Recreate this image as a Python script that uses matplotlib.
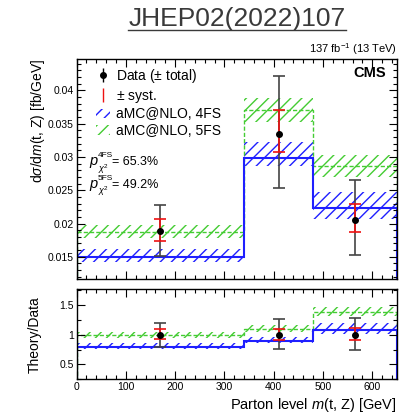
import numpy as np
import matplotlib
matplotlib.use('Agg')
from matplotlib import pyplot as plt
from matplotlib.lines import Line2D
from matplotlib.patches import Patch
from matplotlib.ticker import MultipleLocator, FuncFormatter

# binning and measured cross section (fb/GeV)
edges = [0, 340, 480, 650]
centers = [170, 410, 565]
data = [0.0189, 0.0335, 0.0206]
tot_up = [0.0039, 0.0087, 0.0059]
tot_dn = [0.0038, 0.0082, 0.0054]
syst_up = [0.0018, 0.0035, 0.0023]
syst_dn = [0.0015, 0.0028, 0.0019]

# predictions
pred_4fs = [0.0150, 0.0298, 0.0224]
lo_4fs = [0.0142, 0.0286, 0.0207]
hi_4fs = [0.0162, 0.0322, 0.0247]
pred_5fs = [0.0188, 0.0370, 0.0287]
lo_5fs = [0.0178, 0.0353, 0.0270]
hi_5fs = [0.0198, 0.0389, 0.0303]

schemes = ['4FS', '5FS']
pvals = ['65.3%', '49.2%']

plt.rcParams['font.family'] = ['Liberation Sans', 'DejaVu Sans']
plt.rcParams['mathtext.fontset'] = 'custom'
plt.rcParams['mathtext.rm'] = 'Liberation Sans'
plt.rcParams['mathtext.it'] = 'Liberation Sans:italic'
plt.rcParams['hatch.linewidth'] = 1.0

BLUE = '#1f1fff'
GREEN = '#44cc33'
RED = '#ee1111'
GREY = '#444444'

fig = plt.figure(figsize=(4.03, 4.18), dpi=100)
ax = fig.add_axes([0.190, 0.333, 0.795, 0.526])
rax = fig.add_axes([0.190, 0.093, 0.795, 0.215])


def step(v):
    return np.append(v, v[-1])


def draw(a, d, p4, l4, h4, p5, l5, h5, tu, td, su, sd):
    a.fill_between(edges, step(l5), step(h5), step='post', facecolor='none',
                   edgecolor=GREEN, hatch='///', linewidth=0)
    a.fill_between(edges, step(l4), step(h4), step='post', facecolor='none',
                   edgecolor=BLUE, hatch='///', linewidth=0)
    a.stairs(p5, edges, color=GREEN, lw=1.0, ls=(0, (3, 1.5)))
    a.stairs(p4, edges, color=BLUE, lw=1.5)
    a.errorbar(centers, d, yerr=[td, tu], fmt='none', ecolor=GREY, elinewidth=1.2,
               capsize=4, capthick=1.2, zorder=5)
    a.errorbar(centers, d, yerr=[sd, su], fmt='none', ecolor=RED, elinewidth=1.2,
               capsize=4.5, capthick=1.2, zorder=6)
    a.plot(centers, d, 'o', color='black', ms=4, zorder=7)


draw(ax, data, pred_4fs, lo_4fs, hi_4fs, pred_5fs, lo_5fs, hi_5fs,
     tot_up, tot_dn, syst_up, syst_dn)

# ratio Theory/Data
d = np.array(data)
r = lambda v: np.array(v) / d
draw(rax, np.ones(3), r(pred_4fs), r(lo_4fs), r(hi_4fs), r(pred_5fs), r(lo_5fs), r(hi_5fs),
     r(tot_up), r(tot_dn), r(syst_up), r(syst_dn))

fmt = FuncFormatter(lambda v, p: '%g' % round(v, 4))
for a in (ax, rax):
    a.set_xlim(0, 650)
    a.xaxis.set_major_locator(MultipleLocator(100))
    a.xaxis.set_minor_locator(MultipleLocator(20))
    a.tick_params(which='both', direction='in', top=True, right=True, labelsize=7.5,
                  width=0.8, pad=2)
    a.tick_params(which='major', length=6)
    a.tick_params(which='minor', length=3)
    a.yaxis.set_major_formatter(fmt)
    for s in a.spines.values():
        s.set_linewidth(1.0)

ax.set_ylim(0.0117, 0.0447)
ax.yaxis.set_major_locator(MultipleLocator(0.005))
ax.yaxis.set_minor_locator(MultipleLocator(0.001))
ax.tick_params(labelbottom=False)

rax.set_ylim(0.25, 1.77)
rax.yaxis.set_major_locator(MultipleLocator(0.5))
rax.yaxis.set_minor_locator(MultipleLocator(0.25))

ax.set_ylabel(r'd$\sigma$/d$m$(t, Z) [fb/GeV]', fontsize=10, loc='top')
ax.yaxis.set_label_coords(-0.092, 1.0)
rax.set_ylabel('Theory/Data', fontsize=10)
rax.yaxis.set_label_coords(-0.108, 0.5)
rax.set_xlabel(r'Parton level $m$(t, Z) [GeV]', fontsize=10.5, loc='right', labelpad=3)

# legend
h_data = ax.errorbar([], [], yerr=[], fmt='o', color='black', ms=4, elinewidth=1)
h_syst = ax.errorbar([], [], yerr=[], fmt='none', ecolor=RED, capsize=2.5, elinewidth=1)
h4 = Patch(facecolor='none', edgecolor=BLUE, hatch='///', linewidth=0)
h5 = Patch(facecolor='none', edgecolor=GREEN, hatch='///', linewidth=0)
ax.legend([h_data, h_syst, h4, h5],
          [r'Data ($\pm$ total)', r'$\pm$ syst.', 'aMC@NLO, 4FS', 'aMC@NLO, 5FS'],
          loc='upper left', bbox_to_anchor=(0.036, 1.0), frameon=False, fontsize=10,
          handlelength=1.0, handletextpad=0.4, labelspacing=0.18, borderaxespad=0.2)

# chi2 p-values, p with small super/subscripts placed in pixel offsets
def px(x, y):
    return (x - 76.5) / 320.5, (279 - y) / 220

for i, (s, pv) in enumerate(zip(schemes, pvals)):
    dy = 22.5 * i
    ax.text(*px(89, 165.3 + dy), 'p', transform=ax.transAxes, fontsize=10.5,
            style='italic', va='baseline')
    ax.text(*px(97.5, 156 + dy), s, transform=ax.transAxes, fontsize=6, va='center')
    ax.text(*px(97.5, 169 + dy), r'$\chi^2$', transform=ax.transAxes, fontsize=6.5,
            va='center')
    ax.text(*px(112, 165.3 + dy), '= ' + pv, transform=ax.transAxes, fontsize=9,
            va='baseline')

ax.text(0.965, 0.935, 'CMS', transform=ax.transAxes, fontsize=10.5, fontweight='bold',
        ha='right', va='center')
ax.text(1.0, 1.01, r'137 fb$^{-1}$ (13 TeV)', transform=ax.transAxes, fontsize=8,
        ha='right', va='bottom')

# header with underline
t = fig.text(0.588, 0.955, 'JHEP02(2022)107', fontsize=19, color='#3a3a3a',
             ha='center', va='center')
fig.canvas.draw()
bb = t.get_window_extent().transformed(fig.transFigure.inverted())
fig.add_artist(Line2D([bb.x0, bb.x1], [bb.y0 + 0.001, bb.y0 + 0.001],
                      color='#3a3a3a', lw=1.0, transform=fig.transFigure))

fig.savefig('out.png', dpi=100)
